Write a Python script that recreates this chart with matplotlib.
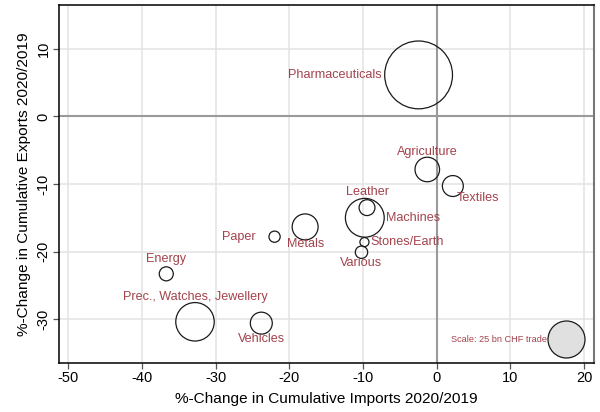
import matplotlib
matplotlib.use("Agg")
from matplotlib import pyplot as plt

plt.rcParams["font.family"] = ["Liberation Sans", "DejaVu Sans"]
plt.rcParams["axes.unicode_minus"] = False

# product groups, % change in cumulative imports / exports 2020 vs 2019,
# and trade volume (bn CHF) that sets the bubble area
groups = ["Pharmaceuticals", "Agriculture", "Textiles", "Leather", "Machines",
          "Stones/Earth", "Various", "Metals", "Paper", "Energy",
          "Prec., Watches, Jewellery", "Vehicles"]
imports_chg = [-2.45, -1.27, 2.2, -9.45, -9.75, -9.8, -10.2, -17.85, -22.0, -36.7, -32.8, -23.8]
exports_chg = [6.15, -7.85, -10.3, -13.5, -15.0, -18.6, -20.1, -16.35, -17.8, -23.3, -30.4, -30.6]
trade_bn = [84.0, 11.0, 8.0, 4.6, 27.5, 1.5, 2.8, 12.3, 2.3, 3.6, 27.0, 8.8]

# label placement: offset in pixels and alignment
label_pos = {
    "Pharmaceuticals": ((-37, 0), "right"),
    "Agriculture": ((0, 17.6), "center"),
    "Textiles": ((4, -12.3), "left"),
    "Leather": ((0, 15.3), "center"),
    "Machines": ((21.3, 0), "left"),
    "Stones/Earth": ((5.7, 0), "left"),
    "Various": ((0, -11), "center"),
    "Metals": ((0, -17.3), "center"),
    "Paper": ((-18.5, 0), "right"),
    "Energy": ((0, 15), "center"),
    "Prec., Watches, Jewellery": ((0, 24.3), "center"),
    "Vehicles": ((0, -16), "center"),
}

scale_x, scale_y, scale_bn = 17.5, -33.0, 25.0

px = 0.72  # points per pixel at dpi 100
k = (2 * 18.5 * px) ** 2 / scale_bn  # marker area per bn CHF
lab_col = "#a3434d"

fig = plt.figure(figsize=(6, 4.12), dpi=100)
ax = fig.add_axes([59 / 600, 1 - 363 / 412, 535 / 600, 358 / 412])

ax.set_xlim(-51.26, 21.36)
ax.set_ylim(-36.5, 16.5)
ax.set_xticks(range(-50, 21, 10))
ax.set_yticks(range(-30, 11, 10))
ax.grid(True, color="#e3e3e3", linewidth=1.1)
ax.set_axisbelow(True)
ax.axhline(0, color="#9a9a9a", linewidth=1.5, zorder=1)
ax.axvline(0, color="#9a9a9a", linewidth=1.5, zorder=1)

ax.scatter(imports_chg, exports_chg, s=[v * k for v in trade_bn],
           facecolors="none", edgecolors="#1a1a1a", linewidths=0.9, zorder=3)
for g, x, y in zip(groups, imports_chg, exports_chg):
    (dx, dy), ha = label_pos[g]
    ax.annotate(g, (x, y), xytext=(dx * px, dy * px), textcoords="offset points",
                ha=ha, va="center", fontsize=9.1, color=lab_col, zorder=4)

ax.scatter([scale_x], [scale_y], s=[scale_bn * k], facecolors="#e0e0e0",
           edgecolors="#1a1a1a", linewidths=0.9, zorder=3)
ax.annotate("Scale: 25 bn CHF trade", (scale_x, scale_y), xytext=(-19 * px, 0),
            textcoords="offset points", ha="right", va="center",
            fontsize=6.6, color=lab_col, zorder=4)

for side in ["left", "bottom", "top"]:
    ax.spines[side].set_color("black")
    ax.spines[side].set_linewidth(1.1)
ax.spines["right"].set_color("#777777")
ax.spines["right"].set_linewidth(1.5)

ax.tick_params(axis="both", direction="out", length=4, width=0.9,
               color="#555555", labelsize=10.5, pad=2)
plt.setp(ax.get_yticklabels(), rotation=90, va="center")

ax.set_xlabel("%-Change in Cumulative Imports 2020/2019", fontsize=11.1, labelpad=5)
ax.set_ylabel("%-Change in Cumulative Exports 2020/2019", fontsize=11.1, labelpad=4)

fig.savefig("out.png", dpi=100)
